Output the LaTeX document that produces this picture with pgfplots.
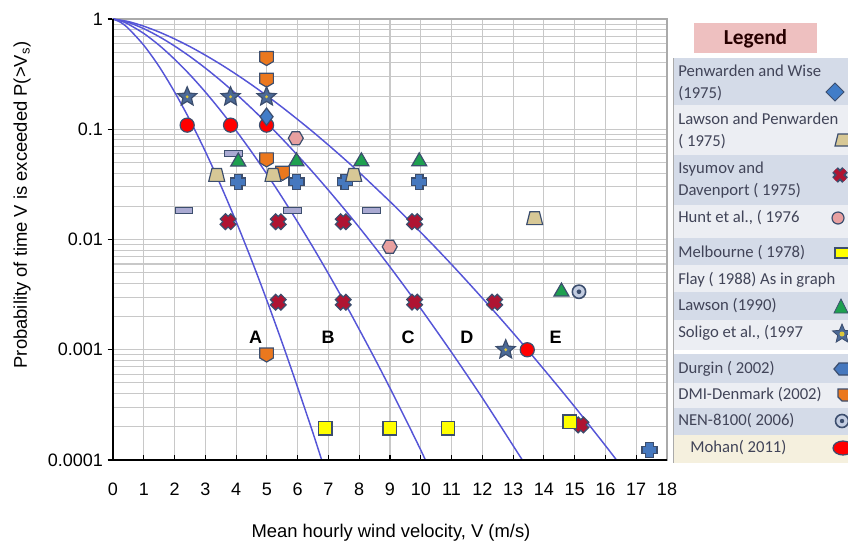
\documentclass[border=0pt]{standalone}
\usepackage{fontspec}
\setmainfont{Liberation Sans}
\newfontfamily\carlito{Carlito}
\usepackage{pgfplots}
\pgfplotsset{compat=1.18}
\usetikzlibrary{shapes.geometric}

\definecolor{gridgray}{RGB}{200,200,200}
\definecolor{framegray}{RGB}{170,170,170}
\definecolor{curveblue}{RGB}{85,85,215}
\definecolor{markedge}{RGB}{60,78,110}
\definecolor{dblue}{RGB}{65,125,200}
\definecolor{tan}{RGB}{215,200,150}
\definecolor{xred}{RGB}{175,20,50}
\definecolor{hpink}{RGB}{232,160,160}
\definecolor{myyellow}{RGB}{255,255,0}
\definecolor{lgreen}{RGB}{30,160,80}
\definecolor{starfill}{RGB}{75,105,150}
\definecolor{starcenter}{RGB}{220,200,60}
\definecolor{durgin}{RGB}{70,120,190}
\definecolor{dmiorange}{RGB}{235,120,30}
\definecolor{lavender}{RGB}{170,170,210}
\definecolor{mred}{RGB}{255,0,0}
\definecolor{nenfill}{RGB}{195,205,225}
\definecolor{rowblue}{RGB}{212,219,232}
\definecolor{rowlight}{RGB}{236,238,243}
\definecolor{rowcream}{RGB}{245,240,222}
\definecolor{titlepink}{RGB}{238,192,192}
\definecolor{legtext}{RGB}{65,68,88}

\pgfdeclareplotmark{trap}{%
 \pgfpathmoveto{\pgfqpoint{-\pgfplotmarksize}{-0.8\pgfplotmarksize}}%
 \pgfpathlineto{\pgfqpoint{\pgfplotmarksize}{-0.8\pgfplotmarksize}}%
 \pgfpathlineto{\pgfqpoint{0.6\pgfplotmarksize}{0.8\pgfplotmarksize}}%
 \pgfpathlineto{\pgfqpoint{-0.6\pgfplotmarksize}{0.8\pgfplotmarksize}}%
 \pgfpathclose\pgfusepathqfillstroke}
\pgfdeclareplotmark{fatplus}{%
 \pgfpathmoveto{\pgfqpoint{0.5\pgfplotmarksize}{\pgfplotmarksize}}%
 \pgfpathlineto{\pgfqpoint{0.5\pgfplotmarksize}{0.5\pgfplotmarksize}}%
 \pgfpathlineto{\pgfqpoint{\pgfplotmarksize}{0.5\pgfplotmarksize}}%
 \pgfpathlineto{\pgfqpoint{\pgfplotmarksize}{-0.5\pgfplotmarksize}}%
 \pgfpathlineto{\pgfqpoint{0.5\pgfplotmarksize}{-0.5\pgfplotmarksize}}%
 \pgfpathlineto{\pgfqpoint{0.5\pgfplotmarksize}{-\pgfplotmarksize}}%
 \pgfpathlineto{\pgfqpoint{-0.5\pgfplotmarksize}{-\pgfplotmarksize}}%
 \pgfpathlineto{\pgfqpoint{-0.5\pgfplotmarksize}{-0.5\pgfplotmarksize}}%
 \pgfpathlineto{\pgfqpoint{-\pgfplotmarksize}{-0.5\pgfplotmarksize}}%
 \pgfpathlineto{\pgfqpoint{-\pgfplotmarksize}{0.5\pgfplotmarksize}}%
 \pgfpathlineto{\pgfqpoint{-0.5\pgfplotmarksize}{0.5\pgfplotmarksize}}%
 \pgfpathlineto{\pgfqpoint{-0.5\pgfplotmarksize}{\pgfplotmarksize}}%
 \pgfpathclose\pgfusepathqfillstroke}
\pgfdeclareplotmark{fstar}{%
 \pgfpathmoveto{\pgfqpoint{0pt}{\pgfplotmarksize}}%
 \pgfpathlineto{\pgfqpoint{0.265\pgfplotmarksize}{0.364\pgfplotmarksize}}%
 \pgfpathlineto{\pgfqpoint{0.951\pgfplotmarksize}{0.309\pgfplotmarksize}}%
 \pgfpathlineto{\pgfqpoint{0.428\pgfplotmarksize}{-0.139\pgfplotmarksize}}%
 \pgfpathlineto{\pgfqpoint{0.588\pgfplotmarksize}{-0.809\pgfplotmarksize}}%
 \pgfpathlineto{\pgfqpoint{0pt}{-0.45\pgfplotmarksize}}%
 \pgfpathlineto{\pgfqpoint{-0.588\pgfplotmarksize}{-0.809\pgfplotmarksize}}%
 \pgfpathlineto{\pgfqpoint{-0.428\pgfplotmarksize}{-0.139\pgfplotmarksize}}%
 \pgfpathlineto{\pgfqpoint{-0.951\pgfplotmarksize}{0.309\pgfplotmarksize}}%
 \pgfpathlineto{\pgfqpoint{-0.265\pgfplotmarksize}{0.364\pgfplotmarksize}}%
 \pgfpathclose\pgfusepathqfillstroke
 \begin{pgfscope}%
 \pgfsetfillcolor{starcenter}%
 \pgfpathcircle{\pgfpointorigin}{0.16\pgfplotmarksize}\pgfusepathqfill
 \end{pgfscope}}
\pgfdeclareplotmark{shield}{%
 \pgfpathmoveto{\pgfqpoint{-0.85\pgfplotmarksize}{0.85\pgfplotmarksize}}%
 \pgfpathlineto{\pgfqpoint{0.85\pgfplotmarksize}{0.85\pgfplotmarksize}}%
 \pgfpathlineto{\pgfqpoint{0.85\pgfplotmarksize}{-0.4\pgfplotmarksize}}%
 \pgfpathlineto{\pgfqpoint{0pt}{-0.9\pgfplotmarksize}}%
 \pgfpathlineto{\pgfqpoint{-0.85\pgfplotmarksize}{-0.4\pgfplotmarksize}}%
 \pgfpathclose\pgfusepathqfillstroke}
\pgfdeclareplotmark{hexa}{%
 \pgfpathmoveto{\pgfqpoint{\pgfplotmarksize}{0pt}}%
 \pgfpathlineto{\pgfqpoint{0.5\pgfplotmarksize}{0.866\pgfplotmarksize}}%
 \pgfpathlineto{\pgfqpoint{-0.5\pgfplotmarksize}{0.866\pgfplotmarksize}}%
 \pgfpathlineto{\pgfqpoint{-\pgfplotmarksize}{0pt}}%
 \pgfpathlineto{\pgfqpoint{-0.5\pgfplotmarksize}{-0.866\pgfplotmarksize}}%
 \pgfpathlineto{\pgfqpoint{0.5\pgfplotmarksize}{-0.866\pgfplotmarksize}}%
 \pgfpathclose\pgfusepathqfillstroke}
\pgfdeclareplotmark{dash}{%
 \pgfpathrectanglecorners{\pgfqpoint{-1.1\pgfplotmarksize}{-0.38\pgfplotmarksize}}{\pgfqpoint{1.1\pgfplotmarksize}{0.38\pgfplotmarksize}}%
 \pgfusepathqfillstroke}
\pgfdeclareplotmark{ringdot}{%
 \pgfpathcircle{\pgfpointorigin}{\pgfplotmarksize}\pgfusepathqfillstroke
 \begin{pgfscope}%
 \pgfsetfillcolor{markedge}%
 \pgfpathcircle{\pgfpointorigin}{0.35\pgfplotmarksize}\pgfusepathqfill
 \end{pgfscope}}

\begin{document}
\begin{tikzpicture}[x=0.75pt,y=-0.75pt]
\useasboundingbox (0,0) rectangle (848,547);
\begin{axis}[
  at={(84.75pt,-345pt)}, anchor=south west,
  scale only axis, width=415.5pt, height=330.75pt,
  xmin=0, xmax=18, ymode=log, ymin=1e-4, ymax=1,
  xtick={0,1,2,3,4,5,6,7,8,9,10,11,12,13,14,15,16,17,18},
  xticklabels={0,1,2,3,4,5,6,7,8,9,10,11,12,13,14,15,16,17,18},
  ytick={1e-4,1e-3,1e-2,1e-1,1},
  yticklabels={0.0001,0.001,0.01,0.1,1},
  grid=both,
  major grid style={draw=gridgray, line width=0.8pt},
  minor grid style={draw=gridgray, line width=0.8pt},
  xtick align=inside, ytick align=outside,
  xtick pos=bottom, ytick pos=left,
  major tick length=4pt, minor tick length=0pt,
  tick style={black, line width=0.8pt},
  axis line style={draw=framegray, line width=0.8pt},
  tick label style={font=\fontsize{13.5}{16}\selectfont},
  xticklabel style={anchor=center, yshift=-22pt},
  clip=false,
]
% Flay curves
\addplot[curveblue, line width=1.1pt, smooth] coordinates {(0,1)(0.25,0.932)(0.5,0.821)(1,0.578)(1.5,0.370)(2,0.218)(2.5,0.1208)(3,0.0629)(3.5,0.0310)(4,0.01456)(4.5,0.00653)(5,0.0028)(5.5,0.00115)(6,4.55e-4)(6.5,1.75e-4)(6.78,1e-4)};
\addplot[curveblue, line width=1.1pt, smooth] coordinates {(0,1)(0.25,0.962)(0.5,0.897)(1,0.740)(1.5,0.578)(2,0.432)(2.5,0.312)(3,0.2177)(3.5,0.1474)(4,0.0972)(4.5,0.0625)(5,0.0392)(5.5,0.0240)(6,0.01439)(6.5,0.00849)(7,0.00489)(7.5,0.00277)(8,0.00153)(8.5,8.37e-4)(9,4.49e-4)(9.5,2.37e-4)(10,1.23e-4)(10.15,1e-4)};
\addplot[curveblue, line width=1.1pt, smooth] coordinates {(0,1)(0.5,0.930)(1,0.817)(1.5,0.692)(2,0.569)(2.5,0.457)(3,0.359)(3.5,0.2764)(4,0.2089)(4.5,0.1552)(5,0.1135)(5.5,0.0817)(6,0.0579)(6.5,0.0406)(7,0.0280)(7.5,0.0191)(8,0.01288)(8.5,0.00857)(9,0.00564)(9.5,0.00366)(10,0.00236)(10.5,0.00150)(11,9.47e-4)(11.5,5.91e-4)(12,3.66e-4)(12.5,2.23e-4)(13,1.35e-4)(13.3,1e-4)};
\addplot[curveblue, line width=1.1pt, smooth] coordinates {(0,1)(0.5,0.948)(1,0.861)(1.5,0.762)(2,0.660)(2.5,0.562)(3,0.470)(3.5,0.388)(4,0.3157)(4.5,0.2537)(5,0.2014)(5.5,0.1581)(6,0.1227)(6.5,0.0945)(7,0.0719)(7.5,0.0543)(8,0.0406)(8.5,0.0300)(9,0.0221)(9.5,0.0161)(10,0.0116)(10.5,0.00834)(11,0.00594)(11.5,0.00419)(12,0.00294)(12.5,0.00205)(13,0.00142)(13.5,9.75e-4)(14,6.64e-4)(14.5,4.51e-4)(15,3.04e-4)(15.5,2.03e-4)(16,1.35e-4)(16.36,1e-4)};
% lavender dashes
\addplot[only marks, mark=dash, mark size=6pt, mark options={fill=lavender, draw=markedge, line width=0.9pt}] coordinates {(3.91,0.0605)(2.31,0.0183)(5.83,0.0183)(8.40,0.0183)};
% DMI-Denmark
\addplot[only marks, mark=shield, mark size=6pt, mark options={fill=dmiorange, draw=markedge, line width=0.9pt}] coordinates {(4.99,0.44)(4.99,0.28)(4.99,0.053)(5.51,0.040)(4.99,0.0009)};
% Durgin
\addplot[only marks, mark=fatplus, mark size=5.6pt, mark options={fill=durgin, draw=markedge, line width=0.9pt}] coordinates {(4.07,0.0334)(5.96,0.0334)(7.53,0.0334)(9.95,0.0334)(17.43,0.000123)};
% Lawson and Penwarden
\addplot[only marks, mark=trap, mark size=6pt, mark options={fill=tan, draw=markedge, line width=0.9pt}] coordinates {(3.37,0.0385)(5.2,0.0385)(7.82,0.0385)(13.7,0.0156)};
% Lawson 1990
\addplot[only marks, mark=triangle*, mark size=6.5pt, mark options={fill=lgreen, draw=markedge, line width=0.9pt}] coordinates {(4.07,0.0508)(5.96,0.051)(8.07,0.051)(9.95,0.051)(14.57,0.00336)};
% Isyumov and Davenport
\addplot[only marks, mark=fatplus, mark size=5.6pt, mark options={fill=xred, draw=markedge, line width=0.9pt, rotate=45}] coordinates {(3.74,0.0145)(5.37,0.0145)(7.48,0.0145)(9.8,0.0145)(5.37,0.0027)(7.48,0.0027)(9.8,0.0027)(12.4,0.0027)(15.2,0.000208)};
% Mohan
\addplot[only marks, mark=*, mark size=5.3pt, mark options={fill=mred, draw=markedge, line width=0.9pt}] coordinates {(2.41,0.109)(3.82,0.109)(4.99,0.109)(13.46,0.001)};
% Penwarden and Wise
\addplot[only marks, mark=diamond*, mark size=6.5pt, mark options={fill=dblue, draw=markedge, line width=0.9pt}] coordinates {(4.99,0.13)};
% Soligo
\addplot[only marks, mark=fstar, mark size=7.5pt, mark options={fill=starfill, draw=markedge, line width=0.9pt}] coordinates {(2.41,0.197)(3.82,0.197)(4.99,0.197)(12.76,0.001)};
% Hunt
\addplot[only marks, mark=hexa, mark size=5.6pt, mark options={fill=hpink, draw=markedge, line width=0.9pt}] coordinates {(5.94,0.083)(8.99,0.0086)};
% Melbourne
\addplot[only marks, mark=square*, mark size=5pt, mark options={fill=myyellow, draw=markedge, line width=0.9pt}] coordinates {(6.9,0.000194)(8.99,0.000194)(10.89,0.000194)(14.84,0.000223)};
% NEN-8100
\addplot[only marks, mark=ringdot, mark size=5pt, mark options={fill=nenfill, draw=markedge, line width=1.2pt}] coordinates {(15.14,0.00336)};
% curve labels
\node[font=\bfseries\fontsize{13.5}{16}\selectfont] at (axis cs:4.63,0.00131) {A};
\node[font=\bfseries\fontsize{13.5}{16}\selectfont] at (axis cs:6.99,0.00131) {B};
\node[font=\bfseries\fontsize{13.5}{16}\selectfont] at (axis cs:9.59,0.00131) {C};
\node[font=\bfseries\fontsize{13.5}{16}\selectfont] at (axis cs:11.5,0.00131) {D};
\node[font=\bfseries\fontsize{13.5}{16}\selectfont] at (axis cs:14.38,0.00131) {E};
\draw[black, line width=0.9pt] (rel axis cs:0,1) -- (rel axis cs:0,0) -- (rel axis cs:1,0);
\end{axis}
% axis titles
\node[rotate=90, font=\fontsize{13.8}{16}\selectfont] at (22,205) {Probability of time V is exceeded P(>V\textsubscript{s})};
\node[font=\fontsize{13.8}{16}\selectfont] at (391,533) {Mean hourly wind velocity, V (m/s)};
% legend panel
\fill[titlepink] (694,23) rectangle (817,53);
\node[font=\carlito\bfseries\fontsize{16}{18}\selectfont, text=black!85!red] at (755.5,38.5) {Legend};
\fill[rowblue] (673,58) rectangle (848,105);
\fill[rowlight] (673,105) rectangle (848,155);
\fill[rowblue] (673,155) rectangle (848,205);
\fill[rowlight] (673,205) rectangle (848,238);
\fill[rowblue] (673,238) rectangle (848,265);
\fill[rowlight] (673,265) rectangle (848,292);
\fill[rowblue] (673,292) rectangle (848,320);
\fill[rowlight] (673,320) rectangle (848,350);
\fill[rowblue] (673,354) rectangle (848,383);
\fill[rowlight] (673,383) rectangle (848,408);
\fill[rowblue] (673,408) rectangle (848,435);
\fill[rowcream] (673,435) rectangle (848,463);
\draw[framegray, line width=0.6pt] (673,58) -- (673,463);
\begin{scope}[every node/.style={anchor=west, inner sep=0pt, text=legtext, font=\carlito\fontsize{12.5}{14}\selectfont, text height=1.6ex, text depth=0.4ex}]
\node at (678,72) {Penwarden and Wise};
\node at (678,94) {(1975)};
\node at (678,120) {Lawson and Penwarden};
\node at (678,142) {( 1975)};
\node at (678,169) {Isyumov and};
\node at (678,191) {Davenport ( 1975)};
\node at (678,218) {Hunt et al., ( 1976};
\node at (678,253) {Melbourne ( 1978)};
\node at (678,280) {Flay ( 1988) As in graph};
\node at (678,306) {Lawson (1990)};
\node at (678,333) {Soligo et al., (1997};
\node at (678,369) {Durgin ( 2002)};
\node at (678,395) {DMI-Denmark (2002)};
\node at (678,421) {NEN-8100( 2006)};
\node at (690,448) {Mohan( 2011)};
\end{scope}
% legend keys
\filldraw[fill=dblue, draw=markedge, line width=0.6pt] (826,92) -- (835,83) -- (844,92) -- (835,101) -- cycle;
\filldraw[fill=tan, draw=markedge, line width=0.9pt] (835,146) -- (852,146) -- (849,134) -- (838,134) -- cycle;
\draw[markedge, line width=6pt] (835,170) -- (845,180) (835,180) -- (845,170);
\draw[xred, line width=3pt] (835,170) -- (845,180) (835,180) -- (845,170);
\filldraw[fill=hpink, draw=markedge, line width=0.9pt] (838,218) circle (6);
\filldraw[fill=myyellow, draw=markedge, line width=0.9pt] (835,248) rectangle (852,258);
\filldraw[fill=lgreen, draw=markedge, line width=0.6pt] (834,313) -- (848,313) -- (841,299) -- cycle;
\node[star, star points=5, star point ratio=2.2, fill=starfill, draw=markedge, line width=0.6pt, minimum size=15pt, inner sep=0pt] at (842,334) {};
\fill[starcenter] (842,334) circle (2.5);
\filldraw[fill=durgin, draw=markedge, line width=0.9pt] (834,369) -- (839,363) -- (856,363) -- (856,375) -- (839,375) -- cycle;
\filldraw[fill=dmiorange, draw=markedge, line width=0.9pt] (838,389) -- (852,389) -- (852,401) -- (842,401) -- (838,397) -- cycle;
\filldraw[fill=nenfill, draw=markedge, line width=1.2pt] (842,421) circle (6.5);
\fill[markedge] (842,421) circle (2.2);
\filldraw[fill=mred, draw=markedge, line width=0.9pt] (843,448) ellipse (10 and 7);
\end{tikzpicture}
\end{document}
